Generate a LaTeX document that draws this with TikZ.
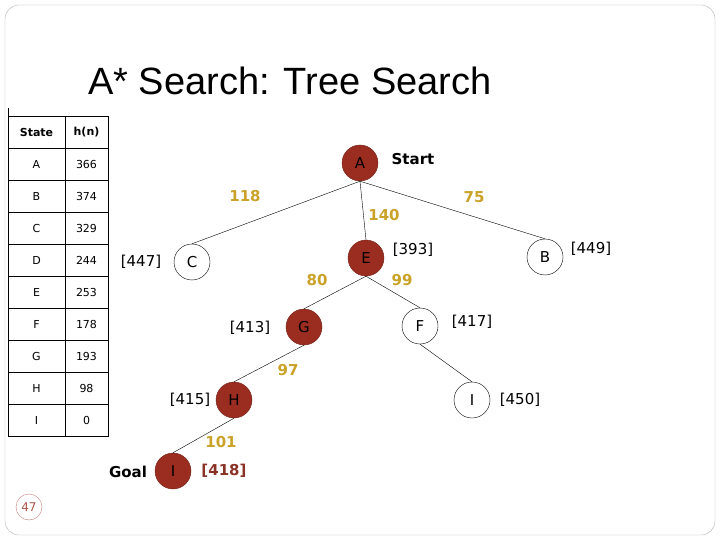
\documentclass[tikz,border=0pt]{standalone}
\usepackage{fontspec}
\setmainfont{DejaVu Sans}
\newfontfamily\titlefont{Liberation Sans}
\definecolor{nodered}{HTML}{9B2D20}
\definecolor{gold}{HTML}{C9A227}
\definecolor{brk}{HTML}{8B3226}
\begin{document}
\begin{tikzpicture}[x=1pt,y=-1pt,
  full/.style={circle,fill=nodered,draw=nodered!70!black,minimum size=36pt,inner sep=0pt,font=\fontsize{15}{17}\selectfont},
  open/.style={circle,draw=black,thin,minimum size=36pt,inner sep=0pt,font=\fontsize{15}{17}\selectfont},
  cost/.style={text=gold,font=\bfseries\fontsize{15}{17}\selectfont},
  fval/.style={font=\fontsize{15}{17}\selectfont},
  edge/.style={draw=black,thin},
  cell/.style={font=\fontsize{11}{13}\selectfont}]
\useasboundingbox (0,0) rectangle (720,540);
\draw[gray!60,rounded corners=14pt] (5,5) rectangle (715,535);
\node[font=\titlefont\fontsize{38}{42}\selectfont] (title) at (290,81) {A* Search: Tree Search};
% table
\draw[thick] (8,116) rectangle (108,436);
\draw[thick] (65,116) -- (65,436);
\foreach \i in {1,...,9} \draw[thick] (8,116+32*\i) -- (108,116+32*\i);
\draw[thick] (8,108) -- (8,116);
\node[cell,font=\bfseries\fontsize{11}{13}\selectfont] (hs) at (36.5,132) {State};
\node[cell,font=\bfseries\fontsize{11}{13}\selectfont] (hh) at (86.5,132) {h(n)};
\foreach \s/\v [count=\k] in {A/366,B/374,C/329,D/244,E/253,F/178,G/193,H/98,I/0}{
  \node[cell] (s\k) at (36.5,132+32*\k) {\s};
  \node[cell] (v\k) at (86.5,132+32*\k) {\v};
}
% nodes
\node[full] (A) at (360,163) {A};
\node[open] (C) at (192,262) {C};
\node[full] (E) at (366,258) {E};
\node[open] (B) at (545,257) {B};
\node[full] (G) at (304,327) {G};
\node[open] (F) at (420,326) {F};
\node[full] (H) at (234,400) {H};
\node[open] (I2) at (472,400) {I};
\node[full] (I) at (173,471) {I};
% edges
\draw[edge] (A.south) -- (C.north);
\draw[edge] (A.south) -- (E.north);
\draw[edge] (A.south) -- (B.north);
\draw[edge] (E.south) -- (G.north);
\draw[edge] (E.south) -- (F.north);
\draw[edge] (G.south) -- (H.north);
\draw[edge] (F.south) -- (I2.north);
\draw[edge] (H.south) -- (I.north);
% costs
\node[cost] (c118) at (245,196) {118};
\node[cost] (c75) at (474,197) {75};
\node[cost] (c140) at (384,215) {140};
\node[cost] (c80) at (317,280) {80};
\node[cost] (c99) at (402,280) {99};
\node[cost] (c97) at (288,370) {97};
\node[cost] (c101) at (221,442) {101};
% f values
\node[fval] (f447) at (141,262) {[447]};
\node[fval] (f393) at (413,250) {[393]};
\node[fval] (f449) at (591,249) {[449]};
\node[fval] (f413) at (250,328) {[413]};
\node[fval] (f417) at (472,322) {[417]};
\node[fval] (f415) at (190,400) {[415]};
\node[fval] (f450) at (520,400) {[450]};
\node[fval,text=brk,font=\bfseries\fontsize{15}{17}\selectfont] (f418) at (224,471) {[418]};
\node[font=\bfseries\fontsize{15}{17}\selectfont] (start) at (413,159) {Start};
\node[font=\bfseries\fontsize{15}{17}\selectfont] (goal) at (128,472) {Goal};
\node[circle,draw=nodered!60,fill=white,minimum size=26pt,inner sep=0pt,text=nodered!80,font=\fontsize{12}{14}\selectfont] (pg) at (29,507) {47};
\end{tikzpicture}
\end{document}
